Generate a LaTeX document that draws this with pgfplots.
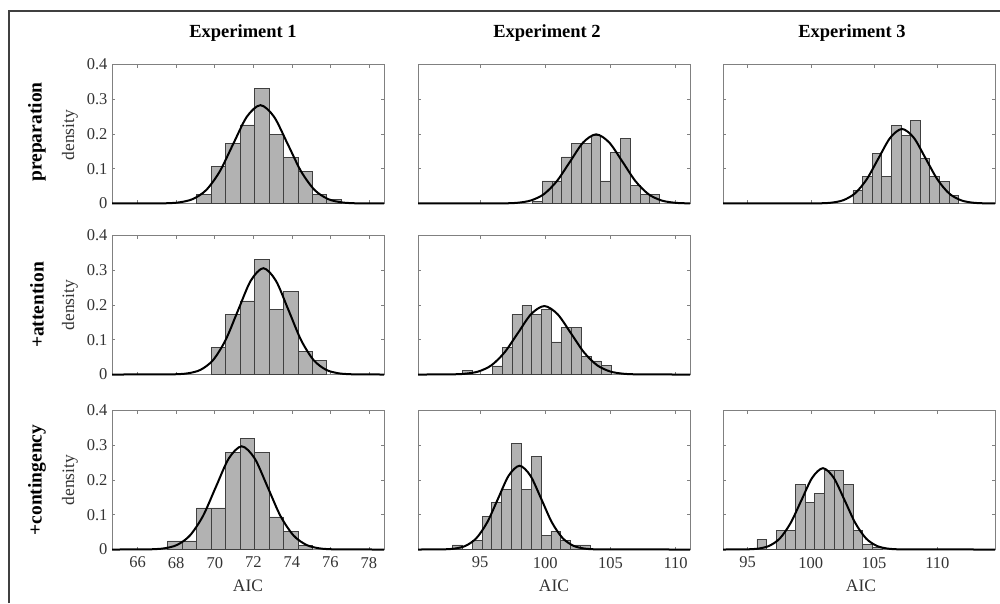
\documentclass[border=0pt]{standalone}
\usepackage{fontspec}
\setmainfont{Liberation Serif}
\usepackage{pgfplots}
\pgfplotsset{compat=1.18}

\pgfplotsset{
  panel/.style={
    scale only axis, width=272pt, height=139pt,
    ymin=0, ymax=0.4, ytick={0,0.1,0.2,0.3,0.4},
    axis line style={draw=black!50, line width=0.7pt},
    tick align=inside, major tick length=3pt,
    every tick/.style={draw=black!50, line width=0.6pt},
    tick label style={font=\fontsize{16.5}{19}\selectfont, text=black!80},
    /pgf/number format/assume math mode=true,
    xticklabel style={yshift=-4pt},
    yticklabel style={xshift=-1pt},
    x tick label as interval=false,
    clip=false,
    anchor=south west,
  },
  c1/.style={xmin=64.67, xmax=78.78, xtick={66,68,70,72,74,76,78}},
  c2/.style={xmin=90.23, xmax=111.1, xtick={95,100,105,110}},
  c3/.style={xmin=93.06, xmax=114.56, xtick={95,100,105,110}},
  nox/.style={xticklabel=\empty},
  noy/.style={yticklabel=\empty},
  bars/.style={ybar interval, fill=black!30, draw=black!75, line width=0.6pt},
  fit/.style={black, line width=2pt, smooth},
}

\begin{document}
\begin{tikzpicture}[x=1pt,y=1pt]
\path[use as bounding box] (0,0) rectangle (1000,603);
\draw[black!75, line width=1.3pt] (9,0) -- (9,592) -- (1000,592);

% ---------- Row 1 ----------
\begin{axis}[panel, c1, nox, at={(112pt,399.5pt)}]
\addplot[bars] coordinates {(69.06,0.027) (69.81,0.106) (70.56,0.172) (71.31,0.226) (72.06,0.331) (72.81,0.198) (73.56,0.132) (74.31,0.093) (75.06,0.027) (75.81,0.012) (76.56,0)};
\addplot[fit] coordinates {(64.67,0) (66.73,0.0001) (67.435,0.0006) (68.14,0.0031) (68.845,0.0124) (69.55,0.0383) (70.255,0.0918) (70.96,0.1716) (71.665,0.2497) (72.37,0.2829) (73.075,0.2497) (73.78,0.1716) (74.485,0.0918) (75.19,0.0383) (75.895,0.0124) (76.60,0.0031) (77.305,0.0006) (78.01,0.0001) (78.78,0)};
\end{axis}

\begin{axis}[panel, c2, nox, noy, at={(418pt,399.5pt)}]
\addplot[bars] coordinates {(99.0,0.007) (99.75,0.065) (100.5,0.065) (101.25,0.134) (102.0,0.173) (102.75,0.173) (103.5,0.195) (104.25,0.065) (105.0,0.146) (105.75,0.187) (106.5,0.052) (107.25,0.027) (108.0,0.027) (108.75,0)};
\addplot[fit] coordinates {(90.23,0) (95.88,0.00005) (96.88,0.0004) (97.89,0.0022) (98.89,0.0087) (99.89,0.0269) (100.89,0.0646) (101.90,0.1207) (102.90,0.1756) (103.90,0.1990) (104.90,0.1756) (105.91,0.1207) (106.91,0.0646) (107.91,0.0269) (108.91,0.0087) (109.92,0.0022) (110.92,0.0004) (111.1,0.0003)};
\end{axis}

\begin{axis}[panel, c3, nox, noy, at={(723pt,399.5pt)}]
\addplot[bars] coordinates {(103.32,0.037) (104.08,0.077) (104.84,0.144) (105.60,0.077) (106.36,0.224) (107.12,0.196) (107.88,0.238) (108.64,0.130) (109.40,0.077) (110.16,0.064) (110.92,0.024) (111.68,0)};
\addplot[fit] coordinates {(93.06,0) (99.77,0.0001) (100.70,0.0005) (101.63,0.0024) (102.56,0.0094) (103.49,0.0290) (104.42,0.0696) (105.35,0.1301) (106.28,0.1893) (107.21,0.2145) (108.14,0.1893) (109.07,0.1301) (110.00,0.0696) (110.93,0.0290) (111.86,0.0094) (112.79,0.0024) (113.72,0.0005) (114.56,0.0001)};
\end{axis}

% ---------- Row 2 ----------
\begin{axis}[panel, c1, nox, at={(112pt,228.5pt)}]
\addplot[bars] coordinates {(69.81,0.079) (70.56,0.172) (71.31,0.212) (72.06,0.331) (72.81,0.187) (73.56,0.239) (74.31,0.066) (75.06,0.040) (75.81,0)};
\addplot[fit] coordinates {(64.67,0) (67.304,0.0001) (67.956,0.0007) (68.608,0.0034) (69.26,0.0134) (69.912,0.0414) (70.564,0.0993) (71.216,0.1856) (71.868,0.2700) (72.52,0.3059) (73.172,0.2700) (73.824,0.1856) (74.476,0.0993) (75.128,0.0414) (75.78,0.0134) (76.432,0.0034) (77.084,0.0007) (77.736,0.0001) (78.78,0)};
\end{axis}

\begin{axis}[panel, c2, nox, noy, at={(418pt,228.5pt)}]
\addplot[bars] coordinates {(93.64,0.012) (94.40,0) (95.16,0) (95.92,0.025) (96.68,0.079) (97.44,0.173) (98.20,0.199) (98.96,0.173) (99.72,0.187) (100.48,0.094) (101.24,0.135) (102.00,0.135) (102.76,0.051) (103.52,0.039) (104.28,0.026) (105.04,0)};
\addplot[fit] coordinates {(90.23,0) (91.82,0.00005) (92.83,0.0004) (93.85,0.0022) (94.86,0.0086) (95.87,0.0267) (96.88,0.0640) (97.90,0.1195) (98.91,0.1739) (99.92,0.1970) (100.93,0.1739) (101.95,0.1195) (102.96,0.0640) (103.97,0.0267) (104.98,0.0086) (105.99,0.0022) (107.01,0.0004) (108.02,0.00005) (111.1,0)};
\end{axis}

% ---------- Row 3 ----------
\begin{axis}[panel, c1, at={(112pt,53.5pt)}]
\addplot[bars] coordinates {(67.56,0.025) (68.31,0.025) (69.06,0.120) (69.81,0.120) (70.56,0.280) (71.31,0.320) (72.06,0.280) (72.81,0.094) (73.56,0.052) (74.31,0.012) (75.06,0)};
\addplot[fit] coordinates {(64.67,0) (66.03,0.0001) (66.70,0.0006) (67.37,0.0033) (68.04,0.0130) (68.71,0.0402) (69.39,0.0964) (70.06,0.1802) (70.73,0.2622) (71.40,0.2970) (72.07,0.2622) (72.74,0.1802) (73.41,0.0964) (74.09,0.0402) (74.76,0.0130) (75.43,0.0033) (76.10,0.0006) (76.77,0.0001) (78.78,0)};
\end{axis}

\begin{axis}[panel, c2, noy, at={(418pt,53.5pt)}]
\addplot[bars] coordinates {(92.87,0.013) (93.63,0) (94.38,0.027) (95.14,0.095) (95.89,0.135) (96.65,0.174) (97.40,0.305) (98.16,0.174) (98.91,0.267) (99.67,0.040) (100.42,0.053) (101.18,0.027) (101.93,0.013) (102.69,0.013) (103.44,0)};
\addplot[fit] coordinates {(90.23,0) (91.40,0.0001) (92.23,0.0005) (93.06,0.0027) (93.88,0.0106) (94.71,0.0326) (95.54,0.0782) (96.37,0.1462) (97.19,0.2127) (98.02,0.2410) (98.85,0.2127) (99.68,0.1462) (100.50,0.0782) (101.33,0.0326) (102.16,0.0106) (102.99,0.0027) (103.81,0.0005) (104.64,0.0001) (111.1,0)};
\end{axis}

\begin{axis}[panel, c3, noy, at={(723pt,53.5pt)}]
\addplot[bars] coordinates {(95.74,0.029) (96.50,0) (97.26,0.055) (98.02,0.055) (98.78,0.188) (99.54,0.136) (100.30,0.162) (101.06,0.228) (101.82,0.228) (102.58,0.188) (103.34,0.055) (104.10,0.014) (104.86,0.007) (105.62,0)};
\addplot[fit] coordinates {(93.06,0) (94.14,0.0001) (94.99,0.0005) (95.85,0.0026) (96.70,0.0103) (97.55,0.0317) (98.40,0.0760) (99.26,0.1419) (100.11,0.2065) (100.96,0.2340) (101.81,0.2065) (102.67,0.1419) (103.52,0.0760) (104.37,0.0317) (105.22,0.0103) (106.08,0.0026) (106.93,0.0005) (107.78,0.0001) (114.56,0)};
\end{axis}

% ---------- Text ----------
\begin{scope}[every node/.style={font=\fontsize{18.5}{21}\selectfont\bfseries}]
\node at (243,570) {Experiment 1};
\node at (547,570) {Experiment 2};
\node at (852,570) {Experiment 3};
\end{scope}
\begin{scope}[every node/.style={font=\fontsize{19.5}{22}\selectfont\bfseries}]
\node[rotate=90] at (37,471) {preparation};
\node[rotate=90] at (37,298) {+attention};
\node[rotate=90] at (37,123) {+contingency};
\end{scope}
\begin{scope}[every node/.style={font=\fontsize{17.5}{20}\selectfont, text=black!80}]
\node[rotate=90] at (70,468) {density};
\node[rotate=90] at (70,298) {density};
\node[rotate=90] at (70,123) {density};
\node at (248,17) {AIC};
\node at (554,17) {AIC};
\node at (861,17) {AIC};
\end{scope}
\end{tikzpicture}
\end{document}
